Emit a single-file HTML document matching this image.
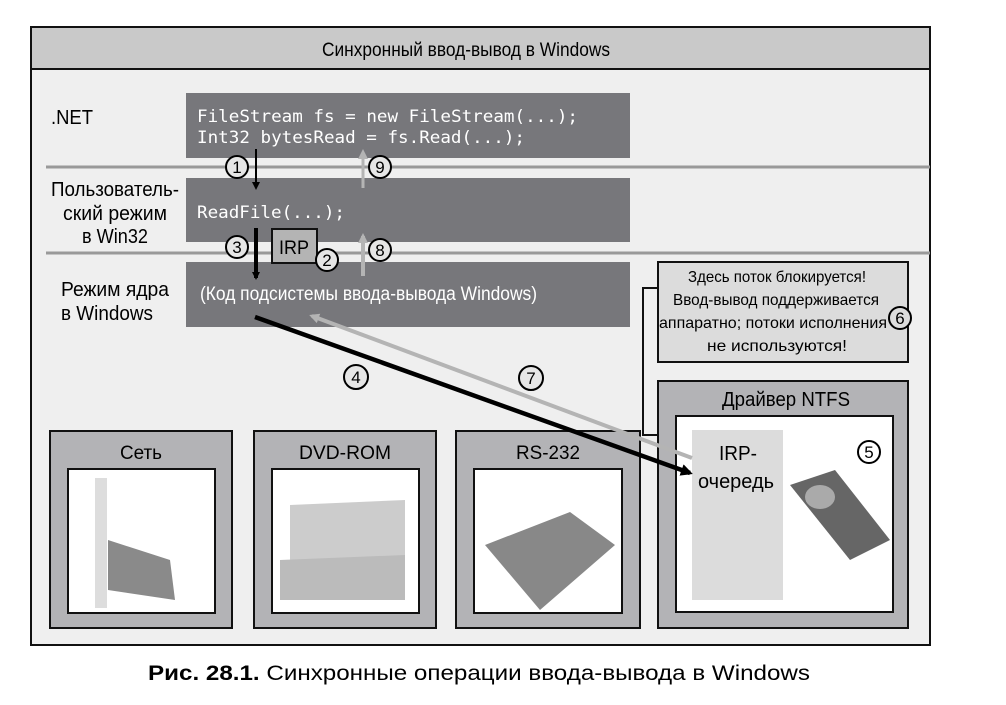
<!DOCTYPE html>
<html><head><meta charset="utf-8"><style>
body{margin:0;background:#fff;}
svg text{font-family:"Liberation Sans",sans-serif;}
.m{font-family:"DejaVu Sans Mono","Liberation Mono",monospace;}
</style></head><body>
<svg width="1006" height="700" viewBox="0 0 1006 700" xmlns="http://www.w3.org/2000/svg">
<defs>
<marker id="ab" markerWidth="8" markerHeight="8" refX="6" refY="4" orient="auto" markerUnits="userSpaceOnUse"><path d="M0,0 L8,4 L0,8 z" fill="#000"/></marker>
<marker id="ag" markerWidth="10" markerHeight="10" refX="7" refY="5" orient="auto" markerUnits="userSpaceOnUse"><path d="M0,0 L10,5 L0,10 z" fill="#b4b4b4"/></marker>
<marker id="abk" markerWidth="12" markerHeight="12" refX="9" refY="6" orient="auto" markerUnits="userSpaceOnUse"><path d="M0,0 L12,6 L0,12 z" fill="#000"/></marker>
</defs>
<rect x="31" y="27" width="899" height="618" fill="#efefef" stroke="#111" stroke-width="2"/>
<rect x="31" y="27" width="899" height="42" fill="#c9c9c9" stroke="#111" stroke-width="2"/>
<text x="466" y="56" font-size="19" text-anchor="middle" textLength="288" lengthAdjust="spacingAndGlyphs">Синхронный ввод-вывод в Windows</text>
<line x1="46" y1="167" x2="930" y2="167" stroke="#999" stroke-width="3"/>
<line x1="46" y1="253" x2="930" y2="253" stroke="#999" stroke-width="3"/>
<rect x="186" y="93" width="444" height="65" fill="#77777b"/>
<rect x="186" y="178" width="444" height="64" fill="#77777b"/>
<rect x="186" y="262" width="444" height="65" fill="#77777b"/>
<text x="51" y="124" font-size="20" textLength="42" lengthAdjust="spacingAndGlyphs">.NET</text>
<text x="115" y="196" font-size="20" text-anchor="middle" textLength="128" lengthAdjust="spacingAndGlyphs">Пользователь-</text>
<text x="115" y="220" font-size="20" text-anchor="middle" textLength="104" lengthAdjust="spacingAndGlyphs">ский режим</text>
<text x="115" y="243" font-size="20" text-anchor="middle" textLength="66" lengthAdjust="spacingAndGlyphs">в Win32</text>
<text x="61" y="296" font-size="20" textLength="108" lengthAdjust="spacingAndGlyphs">Режим ядра</text>
<text x="61" y="320" font-size="20" textLength="92" lengthAdjust="spacingAndGlyphs">в Windows</text>
<text class="m" x="197" y="122" font-size="17" fill="#fff" textLength="381" lengthAdjust="spacingAndGlyphs">FileStream fs = new FileStream(...);</text>
<text class="m" x="197" y="143" font-size="17" fill="#fff" textLength="328" lengthAdjust="spacingAndGlyphs">Int32 bytesRead = fs.Read(...);</text>
<text class="m" x="197" y="218" font-size="17" fill="#fff" textLength="148" lengthAdjust="spacingAndGlyphs">ReadFile(...);</text>
<text x="200" y="300" font-size="19" fill="#fff" textLength="337" lengthAdjust="spacingAndGlyphs">(Код подсистемы ввода-вывода Windows)</text>
<line x1="256" y1="149" x2="256" y2="188" stroke="#000" stroke-width="2" marker-end="url(#ab)"/>
<line x1="256" y1="228" x2="256" y2="278" stroke="#000" stroke-width="4" marker-end="url(#ab)"/>
<line x1="363" y1="188" x2="363" y2="152" stroke="#b4b4b4" stroke-width="3" marker-end="url(#ag)"/>
<line x1="363" y1="276" x2="363" y2="236" stroke="#b4b4b4" stroke-width="4" marker-end="url(#ag)"/>
<rect x="272" y="229" width="45" height="34" fill="#b4b4b4" stroke="#111" stroke-width="2"/>
<text x="294" y="254" font-size="19" text-anchor="middle" textLength="30" lengthAdjust="spacingAndGlyphs">IRP</text>
<g font-size="17" text-anchor="middle" stroke-width="2">
<circle cx="237" cy="167" r="11" fill="#e6e6e6" stroke="#000"/><text x="237" y="173">1</text>
<circle cx="380" cy="167" r="11" fill="#e6e6e6" stroke="#000"/><text x="380" y="173">9</text>
<circle cx="237" cy="247" r="11" fill="#e6e6e6" stroke="#000"/><text x="237" y="253">3</text>
<circle cx="327" cy="260" r="11" fill="#e6e6e6" stroke="#000"/><text x="327" y="266">2</text>
<circle cx="380" cy="250" r="11" fill="#e6e6e6" stroke="#000"/><text x="380" y="256">8</text>
<circle cx="356" cy="377" r="12" fill="#e6e6e6" stroke="#000"/><text x="356" y="383">4</text>
<circle cx="531" cy="378" r="12" fill="#e6e6e6" stroke="#000"/><text x="531" y="384">7</text>
</g>
<g>
<rect x="50" y="431" width="182" height="197" fill="#b3b3b6" stroke="#111" stroke-width="2"/>
<rect x="68" y="469" width="147" height="144" fill="#fff" stroke="#111" stroke-width="2"/>
<text x="141" y="459" font-size="19" text-anchor="middle" textLength="42" lengthAdjust="spacingAndGlyphs">Сеть</text>
<rect x="254" y="431" width="182" height="197" fill="#b3b3b6" stroke="#111" stroke-width="2"/>
<rect x="272" y="469" width="147" height="144" fill="#fff" stroke="#111" stroke-width="2"/>
<text x="345" y="459" font-size="19" text-anchor="middle" textLength="92" lengthAdjust="spacingAndGlyphs">DVD-ROM</text>
<rect x="456" y="431" width="184" height="197" fill="#b3b3b6" stroke="#111" stroke-width="2"/>
<rect x="474" y="469" width="148" height="144" fill="#fff" stroke="#111" stroke-width="2"/>
<text x="548" y="459" font-size="19" text-anchor="middle" textLength="64" lengthAdjust="spacingAndGlyphs">RS-232</text>
<rect x="95" y="478" width="12" height="130" fill="#ddd"/>
<polygon points="108,540 170,560 175,600 108,590" fill="#8a8a8a"/>
<polygon points="290,505 405,500 405,560 290,570" fill="#ccc"/>
<polygon points="280,560 405,555 405,600 280,600" fill="#bbb"/>
<polygon points="485,545 570,512 615,545 540,610" fill="#888"/>
</g>
<polyline points="658,288 643,288 643,435 692,435" fill="none" stroke="#111" stroke-width="2"/>
<rect x="658" y="262" width="250" height="100" fill="#dcdcdc" stroke="#111" stroke-width="2"/>
<g font-size="16" text-anchor="middle">
<text x="777" y="282" textLength="178" lengthAdjust="spacingAndGlyphs">Здесь поток блокируется!</text>
<text x="776" y="305" textLength="206" lengthAdjust="spacingAndGlyphs">Ввод-вывод поддерживается</text>
<text x="773" y="328" textLength="228" lengthAdjust="spacingAndGlyphs">аппаратно; потоки исполнения</text>
<text x="777" y="351" textLength="140" lengthAdjust="spacingAndGlyphs">не используются!</text>
</g>
<circle cx="900" cy="318" r="11" fill="#dcdcdc" stroke="#000" stroke-width="2"/><text x="900" y="324" font-size="17" text-anchor="middle">6</text>
<rect x="658" y="381" width="250" height="247" fill="#b3b3b6" stroke="#111" stroke-width="2"/>
<rect x="676" y="416" width="217" height="196" fill="#fff" stroke="#111" stroke-width="2"/>
<text x="786" y="406" font-size="20" text-anchor="middle" textLength="128" lengthAdjust="spacingAndGlyphs">Драйвер NTFS</text>
<rect x="692" y="430" width="91" height="170" fill="#dcdcdc"/>
<text x="738" y="460" font-size="20" text-anchor="middle" textLength="38" lengthAdjust="spacingAndGlyphs">IRP-</text>
<text x="736" y="488" font-size="20" text-anchor="middle" textLength="76" lengthAdjust="spacingAndGlyphs">очередь</text>
<polygon points="790,485 835,470 890,540 850,560" fill="#666"/>
<ellipse cx="820" cy="497" rx="15" ry="12" fill="#aaa"/>
<circle cx="869" cy="452" r="11" fill="#fff" stroke="#000" stroke-width="2"/><text x="869" y="458" font-size="17" text-anchor="middle">5</text>
<line x1="692" y1="458" x2="312" y2="316" stroke="#b4b4b4" stroke-width="4" marker-end="url(#ag)"/>
<line x1="255" y1="317" x2="690" y2="473" stroke="#000" stroke-width="4.5" marker-end="url(#abk)"/>
<text x="148" y="680" font-size="21" textLength="662" lengthAdjust="spacingAndGlyphs"><tspan font-weight="bold">Рис. 28.1.</tspan> Синхронные операции ввода-вывода в Windows</text>
</svg>
</body></html>
